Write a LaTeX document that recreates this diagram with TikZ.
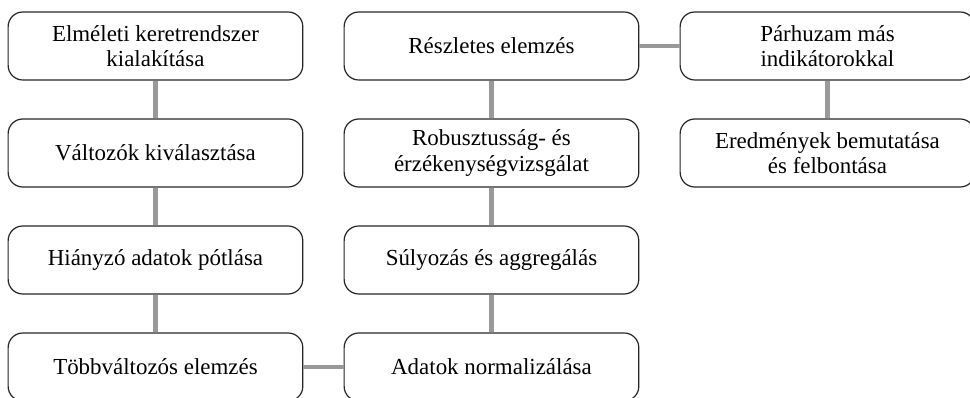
\documentclass[tikz,border=0pt]{standalone}
\usepackage{fontspec}
\setmainfont{Liberation Serif}
\usetikzlibrary{positioning}

\tikzset{
  lepes/.style={draw=black!85,line width=0.9pt,rounded corners=11pt,
    minimum width=221pt,minimum height=51pt,align=center,
    font=\fontsize{17.2}{19.2}\selectfont},
  kapcs/.style={draw=black!40,line width=3.6pt}
}

\begin{document}
\begin{tikzpicture}[node distance=80.25pt and 252pt,on grid]
  \useasboundingbox (0,0) rectangle (727.5pt,-298.5pt);
  \node[lepes] (keret) at (116.6pt,-34.5pt) {Elméleti keretrendszer\\kialakítása};
  \node[lepes] (valt) [below=of keret] {Változók kiválasztása};
  \node[lepes] (hiany) [below=of valt] {Hiányzó adatok pótlása};
  \node[lepes] (tobb) [below=of hiany] {Többváltozós elemzés};
  \node[lepes] (norm) [right=of tobb] {Adatok normalizálása};
  \node[lepes] (suly) [above=of norm] {Súlyozás és aggregálás};
  \node[lepes] (robu) [above=of suly] {Robusztusság- és\\érzékenységvizsgálat};
  \node[lepes] (reszl) [above=of robu] {Részletes elemzés};
  \node[lepes] (parh) [right=of reszl] {Párhuzam más\\indikátorokkal};
  \node[lepes] (ered) [below=of parh] {Eredmények bemutatása\\és felbontása};
  \path[kapcs]
  (keret) edge (valt)
  (valt) edge (hiany)
  (hiany) edge (tobb)
  (tobb) edge (norm)
  (norm) edge (suly)
  (suly) edge (robu)
  (robu) edge (reszl)
  (reszl) edge (parh)
  (parh) edge (ered);
\end{tikzpicture}
\end{document}
